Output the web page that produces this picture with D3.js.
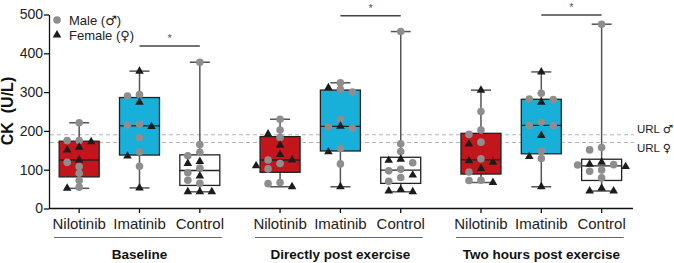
<!DOCTYPE html>
<html>
<head>
<meta charset="utf-8">
<script src="https://cdn.jsdelivr.net/npm/d3@7"></script>
<style>
  body { margin: 0; background: #fff; }
  svg { display: block; font-family: "Liberation Sans", Arial, sans-serif; }
  .sym { font-family: "DejaVu Sans", sans-serif; }
</style>
</head>
<body>
<div id="chart"></div>
<script>
  const drugs = ["Nilotinib", "Imatinib", "Control"];
  const timepoints = ["Baseline", "Directly post exercise", "Two hours post exercise"];
  const yTicks = [0, 100, 200, 300, 400, 500];
  const urlMale = 190;
  const urlFemale = 170;

  // CK values (U/L)
  const baseNiloMale = [221, 175, 175, 119, 108, 91, 72, 55];
  const baseNiloFemale = [172, 158, 151, 125, 52];
  const baseImaMale = [290, 294, 215, 217, 183, 146, 109];
  const baseImaFemale = [354, 274, 211, 135, 53];
  const baseCtrlMale = [377, 165, 145, 136, 104, 92, 73, 65];
  const baseCtrlFemale = [121, 116, 84, 43, 43, 43];

  const postNiloMale = [230, 202, 183, 116, 125, 102, 67, 64];
  const postNiloFemale = [192, 163, 139, 125, 110, 56];
  const postImaMale = [324, 307, 300, 230, 211, 207, 155, 115];
  const postImaFemale = [311, 212, 146, 56];
  const postCtrlMale = [456, 167, 147, 118, 101, 97, 80, 70];
  const postCtrlFemale = [127, 124, 86, 49, 45, 43];

  const twoNiloMale = [250, 202, 191, 171, 128, 94, 73, 72];
  const twoNiloFemale = [305, 166, 123, 119, 103, 67];
  const twoImaMale = [297, 282, 281, 222, 214, 214, 148, 129];
  const twoImaFemale = [352, 274, 188, 134, 56];
  const twoCtrlMale = [475, 157, 151, 113, 112, 99, 96, 79];
  const twoCtrlFemale = [119, 114, 108, 52, 45, 45];

  const maleSets = [
    [baseNiloMale, baseImaMale, baseCtrlMale],
    [postNiloMale, postImaMale, postCtrlMale],
    [twoNiloMale, twoImaMale, twoCtrlMale],
  ];
  const femaleSets = [
    [baseNiloFemale, baseImaFemale, baseCtrlFemale],
    [postNiloFemale, postImaFemale, postCtrlFemale],
    [twoNiloFemale, twoImaFemale, twoCtrlFemale],
  ];

  // Imatinib vs Control significance bar height per timepoint
  const sigLevels = [419, 497, 499];

  const DRUG_COLORS = { Nilotinib: "#c3161c", Imatinib: "#18afd9", Control: "#ffffff" };

  const W = 674, H = 263;
  const groupStride = 3.33;

  const svg = d3.select("#chart").append("svg")
    .attr("width", W).attr("height", H)
    .attr("viewBox", `0 0 ${W} ${H}`);

  const y = d3.scaleLinear().domain([0, 500]).range([208.5, 14.5]);
  const x = d3.scaleLinear().domain([-0.5, 2 * groupStride + 2.52]).range([49, 633]);
  const pos = (g, j) => x(g * groupStride + j);

  // GraphPad-style quartiles: position (n+1)p
  function quart(sorted, p) {
    const n = sorted.length;
    const r = (n + 1) * p;
    const lo = Math.floor(r);
    if (lo < 1) return sorted[0];
    if (lo >= n) return sorted[n - 1];
    return sorted[lo - 1] + (r - lo) * (sorted[lo] - sorted[lo - 1]);
  }

  // simple column beeswarm
  function swarm(points) {
    const colW = 12, minGap = 6.3;
    const placed = [];
    points.slice().sort((a, b) => b.v - a.v).forEach((p) => {
      const py = y(p.v);
      const order = [0, -1, 1, -2, 2, -3, 3];
      for (const c of order) {
        const hit = placed.some((q) => q.col === c && Math.abs(q.py - py) < minGap);
        if (!hit) { placed.push({ ...p, col: c, py: py, dx: c * colW }); break; }
      }
    });
    return placed;
  }

  // text with a gender symbol in a font that has it
  function symText(sel, before, sym, after) {
    sel.append("tspan").text(before);
    sel.append("tspan").attr("class", "sym").text(sym);
    if (after) sel.append("tspan").text(after);
    return sel;
  }

  // Reference lines
  [urlMale, urlFemale].forEach((u) => {
    svg.append("line")
      .attr("x1", 50).attr("x2", 634)
      .attr("y1", y(u)).attr("y2", y(u))
      .attr("stroke", "#b4b4b4").attr("stroke-width", 1)
      .attr("stroke-dasharray", "4,3");
  });
  symText(svg.append("text").attr("x", 637).attr("y", y(urlMale) - 2)
    .attr("font-size", 11.5).attr("fill", "#222"), "URL ", "♂");
  symText(svg.append("text").attr("x", 637).attr("y", y(urlFemale) + 9)
    .attr("font-size", 11.5).attr("fill", "#222"), "URL ", "♀");

  // Y axis
  const yAxis = svg.append("g")
    .attr("transform", "translate(49,0)")
    .call(d3.axisLeft(y).tickValues(yTicks).tickSize(5).tickSizeOuter(0).tickPadding(1));
  yAxis.selectAll("text").attr("font-size", 14).attr("fill", "#222")
    .attr("font-family", "'Liberation Sans', Arial, sans-serif");
  yAxis.selectAll("line, path").attr("stroke", "#111").attr("stroke-width", 1.3);

  svg.append("text")
    .attr("transform", `translate(13,111) rotate(-90)`)
    .attr("text-anchor", "middle")
    .attr("font-size", 16).attr("font-weight", "bold")
    .attr("fill", "#111")
    .style("white-space", "pre")
    .text("CK  (U/L)");

  // X axis line
  svg.append("line")
    .attr("x1", 49).attr("x2", 633).attr("y1", 208.5).attr("y2", 208.5)
    .attr("stroke", "#111").attr("stroke-width", 1.3);

  timepoints.forEach((tp, g) => {
    drugs.forEach((drug, j) => {
      const cx = pos(g, j);
      const males = maleSets[g][j];
      const females = femaleSets[g][j];
      const all = males.concat(females).slice().sort(d3.ascending);
      const q1 = quart(all, 0.25), med = quart(all, 0.5), q3 = quart(all, 0.75);
      const lo = d3.min(all), hi = d3.max(all);
      const bw = 40, cap = 20;
      const bg = svg.append("g");

      // whiskers
      bg.append("line").attr("x1", cx).attr("x2", cx).attr("y1", y(hi)).attr("y2", y(lo))
        .attr("stroke", "#555").attr("stroke-width", 1.5);
      [hi, lo].forEach((v) => {
        bg.append("line").attr("x1", cx - cap / 2).attr("x2", cx + cap / 2)
          .attr("y1", y(v)).attr("y2", y(v))
          .attr("stroke", "#555").attr("stroke-width", 1.5);
      });
      // box
      bg.append("rect")
        .attr("x", cx - bw / 2).attr("width", bw)
        .attr("y", y(q3)).attr("height", y(q1) - y(q3))
        .attr("fill", DRUG_COLORS[drug])
        .attr("stroke", "#222").attr("stroke-width", 1.3);
      bg.append("line").attr("x1", cx - bw / 2).attr("x2", cx + bw / 2)
        .attr("y1", y(med)).attr("y2", y(med))
        .attr("stroke", "#222").attr("stroke-width", 1.3);

      // points
      const pts = swarm(
        males.map((v) => ({ v, sex: "M" })).concat(females.map((v) => ({ v, sex: "F" })))
      );
      bg.selectAll("circle.male").data(pts.filter((p) => p.sex === "M")).enter()
        .append("circle").attr("class", "male")
        .attr("cx", (p) => cx + p.dx).attr("cy", (p) => p.py)
        .attr("r", 3.8).attr("fill", "#8e8e8e");
      bg.selectAll("path.female").data(pts.filter((p) => p.sex === "F")).enter()
        .append("path").attr("class", "female")
        .attr("d", d3.symbol(d3.symbolTriangle).size(32))
        .attr("transform", (p) => `translate(${cx + p.dx},${p.py})`)
        .attr("fill", "#1c1c1c");

      // x tick + label
      svg.append("line").attr("x1", cx).attr("x2", cx).attr("y1", 208.5).attr("y2", 213)
        .attr("stroke", "#111").attr("stroke-width", 1.3);
      svg.append("text").attr("x", cx).attr("y", 229)
        .attr("text-anchor", "middle").attr("font-size", 15).attr("fill", "#222")
        .text(drug);
    });

    // group underline + title
    svg.append("line")
      .attr("x1", pos(g, 0) - 25).attr("x2", pos(g, 2) + 22)
      .attr("y1", 237.5).attr("y2", 237.5)
      .attr("stroke", "#666").attr("stroke-width", 1);
    svg.append("text").attr("x", pos(g, 1)).attr("y", 259)
      .attr("text-anchor", "middle").attr("font-size", 13.5).attr("font-weight", "bold")
      .attr("fill", "#111").text(tp);

    // significance bar Imatinib vs Control
    const sy = y(sigLevels[g]);
    svg.append("line")
      .attr("x1", pos(g, 1)).attr("x2", pos(g, 2))
      .attr("y1", sy).attr("y2", sy)
      .attr("stroke", "#444").attr("stroke-width", 1.5);
    svg.append("text").attr("x", (pos(g, 1) + pos(g, 2)) / 2).attr("y", sy - 4)
      .attr("text-anchor", "middle").attr("font-size", 11).attr("fill", "#555").text("*");
  });

  // Legend
  const lg = svg.append("g");
  lg.append("circle").attr("cx", 57).attr("cy", 20).attr("r", 3.8).attr("fill", "#8e8e8e");
  lg.append("path").attr("d", d3.symbol(d3.symbolTriangle).size(32))
    .attr("transform", "translate(57,35)").attr("fill", "#1c1c1c");
  symText(lg.append("text").attr("x", 69).attr("y", 25).attr("font-size", 13).attr("fill", "#222"),
    "Male (", "♂", ")");
  symText(lg.append("text").attr("x", 69).attr("y", 40).attr("font-size", 13).attr("fill", "#222"),
    "Female (", "♀", ")");
</script>
</body>
</html>
